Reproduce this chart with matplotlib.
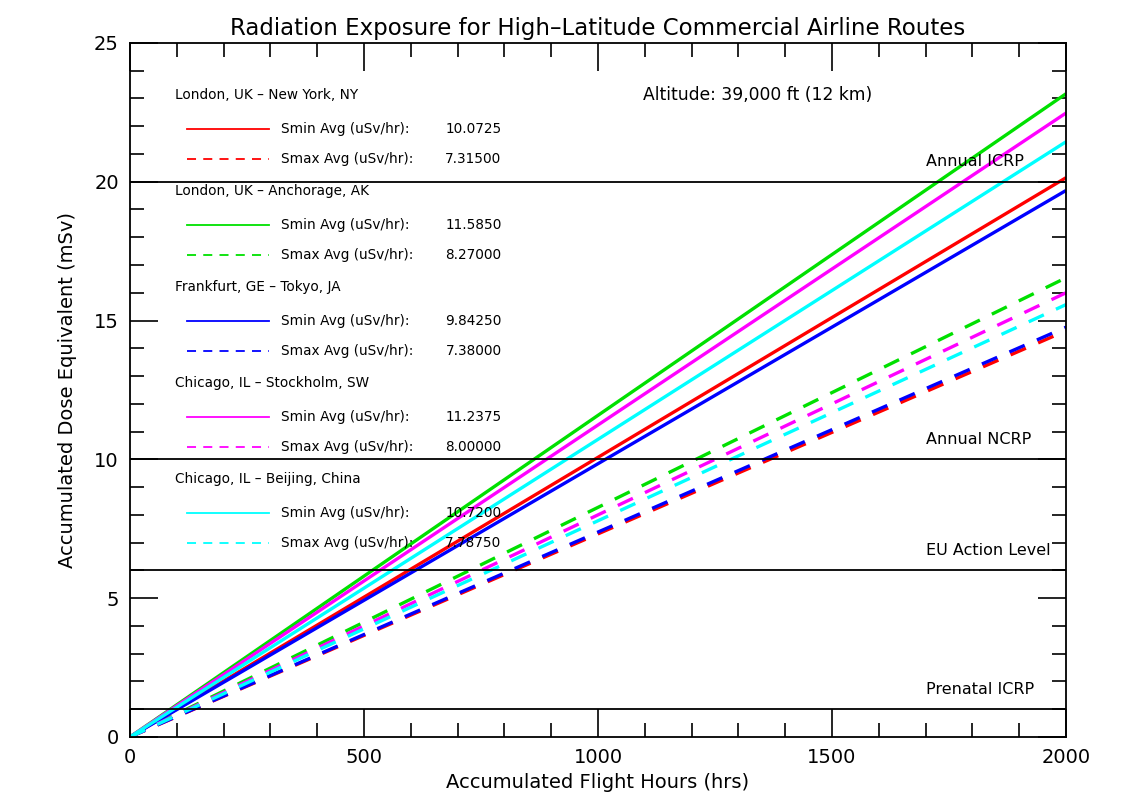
import numpy as np
import matplotlib
matplotlib.use("Agg")
import matplotlib.pyplot as plt

# route averages (uSv/hr)
routes = ["London, UK \u2013 New York, NY",
          "London, UK \u2013 Anchorage, AK",
          "Frankfurt, GE \u2013 Tokyo, JA",
          "Chicago, IL \u2013 Stockholm, SW",
          "Chicago, IL \u2013 Beijing, China"]
smin_avg = [10.0725, 11.5850, 9.84250, 11.2375, 10.7200]
smax_avg = [7.31500, 8.27000, 7.38000, 8.00000, 7.78750]
smin_txt = ["10.0725", "11.5850", "9.84250", "11.2375", "10.7200"]
smax_txt = ["7.31500", "8.27000", "7.38000", "8.00000", "7.78750"]
colors = ["#ff0000", "#00e000", "#0000ff", "#ff00ff", "#00ffff"]

# dose limits (mSv)
limit_vals = [20, 10, 6, 1]
limit_names = ["Annual ICRP", "Annual NCRP", "EU Action Level", "Prenatal ICRP"]

hours = np.linspace(0, 2000, 201)

fig = plt.figure(figsize=(11.45, 7.95), dpi=100)
ax = fig.add_axes([0.1135, 0.073, 0.8175, 0.873])

for i in range(len(routes)):
    ax.plot(hours, smin_avg[i] * hours / 1000.0, color=colors[i], lw=2.4,
            solid_capstyle="butt")
    ax.plot(hours, smax_avg[i] * hours / 1000.0, color=colors[i], lw=2.4,
            dashes=(5, 4))

for v, name in zip(limit_vals, limit_names):
    ax.axhline(v, color="black", lw=1.3)
    ax.text(1700, v + 0.45, name, fontsize=11.5, ha="left", va="bottom")

# legend block drawn by hand, one route per group
fs = 9.8
for i, r in enumerate(routes):
    y0 = 0.925 - i * 0.1385
    ax.text(0.048, y0, r, transform=ax.transAxes, fontsize=fs, va="center")
    y1 = y0 - 0.049
    y2 = y0 - 0.092
    ax.plot([0.061, 0.149], [y1, y1], transform=ax.transAxes,
            color=colors[i], lw=1.3)
    ax.plot([0.061, 0.149], [y2, y2], transform=ax.transAxes,
            color=colors[i], lw=1.3, dashes=(5, 4))
    ax.text(0.161, y1, "Smin Avg (uSv/hr):", transform=ax.transAxes,
            fontsize=fs, va="center")
    ax.text(0.161, y2, "Smax Avg (uSv/hr):", transform=ax.transAxes,
            fontsize=fs, va="center")
    ax.text(0.397, y1, smin_txt[i], transform=ax.transAxes,
            fontsize=fs, va="center", ha="right")
    ax.text(0.397, y2, smax_txt[i], transform=ax.transAxes,
            fontsize=fs, va="center", ha="right")

ax.text(0.548, 0.925, "Altitude: 39,000 ft (12 km)", transform=ax.transAxes,
        fontsize=12.3, va="center")

ax.set_xlim(0, 2000)
ax.set_ylim(0, 25)
ax.set_xticks([0, 500, 1000, 1500, 2000])
ax.set_yticks([0, 5, 10, 15, 20, 25])
ax.set_xticks(np.arange(0, 2001, 100), minor=True)
ax.set_yticks(np.arange(0, 26, 1), minor=True)
ax.tick_params(which="both", direction="in", top=True, right=True,
               labelsize=14, width=1.2, pad=8)
ax.tick_params(which="major", length=20)
ax.tick_params(which="minor", length=10)
for s in ax.spines.values():
    s.set_linewidth(1.3)

ax.set_title("Radiation Exposure for High\u2013Latitude Commercial Airline Routes",
             fontsize=16.5, pad=6)
ax.set_xlabel("Accumulated Flight Hours (hrs)", fontsize=14, labelpad=4)
ax.set_ylabel("Accumulated Dose Equivalent (mSv)", fontsize=14, labelpad=12)

fig.savefig("out.png", dpi=100)
